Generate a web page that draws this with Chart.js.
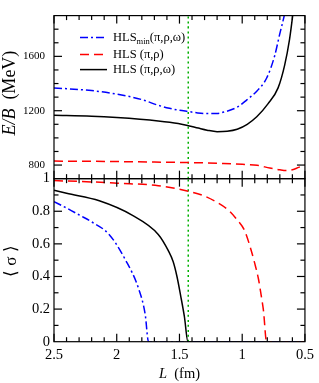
<!DOCTYPE html>
<html>
<head>
<meta charset="utf-8">
<script src="https://cdn.jsdelivr.net/npm/chart.js@4.4.1/dist/chart.umd.min.js"></script>
<style>
  html, body { margin: 0; padding: 0; background: #fff; }
  canvas { display: block; }
</style>
</head>
<body>
<canvas id="chart" width="319" height="383"></canvas>
<script>
// top panel: E/B (MeV) against L (fm)
const lMinE = [2.5, 2.2, 2.0, 1.8, 1.67, 1.58, 1.5, 1.43, 1.355, 1.28, 1.2, 1.146, 1.04, 0.963, 0.884, 0.806, 0.741, 0.702, 0.662, 0.65];
const eMin  = [1368, 1348, 1322, 1282, 1240, 1218, 1203, 1194, 1184, 1179, 1180, 1190, 1226, 1280, 1344, 1439, 1605, 1760, 1912, 1970];
const lPiRhoE = [2.5, 2.2, 2.0, 1.7, 1.4, 1.15, 1.0, 0.88, 0.78, 0.7, 0.65, 0.6, 0.55, 0.5];
const ePiRho  = [829, 828, 826, 822, 818, 812, 806, 798, 778, 765, 760, 766, 783, 800];
const lFullE = [2.5, 2.2, 2.0, 1.67, 1.51, 1.43, 1.35, 1.28, 1.2, 1.12, 1.04, 0.96, 0.884, 0.795, 0.714, 0.662, 0.623, 0.596, 0.585];
const eFull  = [1167, 1160, 1150, 1125, 1106, 1090, 1072, 1057, 1046, 1049, 1064, 1100, 1155, 1250, 1368, 1534, 1723, 1912, 2000];

// bottom panel: <sigma> against L (fm)
const lMinS = [2.5, 2.4, 2.296, 2.2, 2.061, 1.93, 1.825, 1.773, 1.747, 0.5];
const sMin  = [0.859, 0.82, 0.776, 0.735, 0.658, 0.501, 0.324, 0.167, 0, 0];
const lPiRhoS = [2.5, 2.2, 2.0, 1.669, 1.43, 1.3, 1.2, 1.1, 1.04, 0.98, 0.936, 0.9, 0.87, 0.85, 0.83, 0.806, 0.5];
const sPiRho  = [0.988, 0.98, 0.972, 0.957, 0.923, 0.893, 0.854, 0.80, 0.747, 0.68, 0.58, 0.48, 0.383, 0.29, 0.187, 0, 0];
const lFullS = [2.5, 2.4, 2.139, 1.878, 1.669, 1.59, 1.55, 1.52, 1.49, 1.46, 1.433, 0.5];
const sFull  = [0.929, 0.91, 0.864, 0.776, 0.658, 0.56, 0.49, 0.40, 0.28, 0.15, 0, 0];

const vLineL = 1.43;
const seriesLabels = ['HLS_min(π,ρ,ω)', 'HLS (π,ρ)', 'HLS (π,ρ,ω)'];

const xTicks = [2.5, 2, 1.5, 1, 0.5];
const eTicks = [800, 1200, 1600];
const sTicks = [0, 0.2, 0.4, 0.6, 0.8, 1];

const SERIF = "'Liberation Serif', 'Times New Roman', serif";
const BLUE = '#0000ff', RED = '#ff0000', BLACK = '#000000', GREEN = '#00b000';
const DASHDOT = [8, 3, 2, 3], DASH = [9, 5];

const pts = (xs, ys) => xs.map((x, i) => ({ x: x, y: ys[i] }));

function line(label, xs, ys, axis, color, dash) {
  return {
    label: label, data: pts(xs, ys), yAxisID: axis,
    borderColor: color, borderWidth: 1.5, borderDash: dash,
    pointRadius: 0, fill: false, cubicInterpolationMode: 'monotone'
  };
}

const datasets = [
  line(seriesLabels[0], lMinE, eMin, 'yE', BLUE, DASHDOT),
  line(seriesLabels[1], lPiRhoE, ePiRho, 'yE', RED, DASH),
  line(seriesLabels[2], lFullE, eFull, 'yE', BLACK, []),
  line('', lMinS, sMin, 'yS', BLUE, DASHDOT),
  line('', lPiRhoS, sPiRho, 'yS', RED, DASH),
  line('', lFullS, sFull, 'yS', BLACK, []),
  line('', [vLineL, vLineL], [700, 1900], 'yE', GREEN, [2, 3]),
  line('', [vLineL, vLineL], [0, 1], 'yS', GREEN, [2, 3])
];

function drawParts(ctx, parts, x, y) {
  let w = 0;
  parts.forEach(p => { ctx.font = p.font; w += ctx.measureText(p.t).width; });
  let cx = x - w / 2;
  parts.forEach(p => {
    ctx.font = p.font;
    ctx.fillText(p.t, cx, y + (p.dy || 0));
    cx += ctx.measureText(p.t).width;
  });
}

const framePlugin = {
  id: 'frame',
  afterDatasetsDraw(chart) {
    const { ctx, chartArea: a, scales } = chart;
    const x = scales.x, yE = scales.yE, yS = scales.yS;
    ctx.save();
    ctx.strokeStyle = '#000';
    ctx.lineWidth = 1.2;
    ctx.setLineDash([]);
    const seg = (x1, y1, x2, y2) => { ctx.beginPath(); ctx.moveTo(x1, y1); ctx.lineTo(x2, y2); ctx.stroke(); };
    [yE, yS].forEach(y => ctx.strokeRect(a.left, y.top, a.right - a.left, y.bottom - y.top));

    // x ticks on both panels, pointing inward
    for (let i = 5; i <= 25; i++) {
      const v = i / 10;
      const px = x.getPixelForValue(v);
      const len = xTicks.includes(v) ? 8 : 4.5;
      [yE, yS].forEach(y => { seg(px, y.top, px, y.top + len); seg(px, y.bottom, px, y.bottom - len); });
    }
    for (let v = 800; v <= 1800; v += 100) {
      const py = yE.getPixelForValue(v);
      const len = eTicks.includes(v) ? 8 : 4.5;
      seg(a.left, py, a.left + len, py); seg(a.right, py, a.right - len, py);
    }
    for (let i = 1; i <= 9; i++) {
      const v = i / 10;
      const py = yS.getPixelForValue(v);
      const len = sTicks.some(t => Math.abs(t - v) < 1e-9) ? 8 : 4.5;
      seg(a.left, py, a.left + len, py); seg(a.right, py, a.right - len, py);
    }

    // axis titles
    ctx.fillStyle = '#000';
    ctx.textBaseline = 'alphabetic';
    drawParts(ctx, [
      { t: 'L', font: 'italic 14.5px ' + SERIF },
      { t: '  (fm)', font: '14.5px ' + SERIF }
    ], (a.left + a.right) / 2, 378);

    ctx.save();
    ctx.translate(14.5, (yE.top + yE.bottom) / 2 - 4);
    ctx.rotate(-Math.PI / 2);
    drawParts(ctx, [
      { t: 'E/B', font: 'italic 18px ' + SERIF },
      { t: '  (MeV)', font: '18px ' + SERIF }
    ], 0, 0);
    ctx.restore();

    ctx.save();
    ctx.translate(15.5, (yS.top + yS.bottom) / 2 + 1);
    ctx.rotate(-Math.PI / 2);
    drawParts(ctx, [{ t: '⟨ σ ⟩', font: '17px ' + SERIF }], 0, 0);
    ctx.restore();

    // legend for the three models
    const lx = a.left + 26, rows = [yE.top + 22, yE.top + 39, yE.top + 54];
    [0, 1, 2].forEach(i => {
      const ds = chart.data.datasets[i];
      const ry = rows[i];
      ctx.strokeStyle = ds.borderColor;
      ctx.lineWidth = 1.5;
      ctx.setLineDash(ds.borderDash);
      seg(lx, ry, lx + 27, ry);
      ctx.setLineDash([]);
      ctx.fillStyle = '#000';
      ctx.textAlign = 'left';
      ctx.textBaseline = 'middle';
      const f = '12.5px ' + SERIF;
      let tx = lx + 33;
      const parts = ds.label.split('_');
      ctx.font = f;
      ctx.fillText(parts[0], tx, ry);
      tx += ctx.measureText(parts[0]).width;
      if (parts.length > 1) {
        const k = parts[1].indexOf('(');
        const sub = parts[1].slice(0, k), rest = parts[1].slice(k);
        ctx.font = '8.5px ' + SERIF;
        ctx.fillText(sub, tx, ry + 4);
        tx += ctx.measureText(sub).width;
        ctx.font = f;
        ctx.fillText(rest, tx, ry);
      }
    });
    ctx.restore();
  }
};

const setTicks = list => scale => { scale.ticks = list.map(v => ({ value: v })); };
const plainLabel = v => String(v);

new Chart(document.getElementById('chart'), {
  type: 'line',
  data: { datasets: datasets },
  options: {
    responsive: false,
    animation: false,
    layout: { padding: { top: 2, right: 10, left: 0, bottom: 0 } },
    plugins: { legend: { display: false }, tooltip: { enabled: false } },
    scales: {
      x: {
        type: 'linear', reverse: true, min: 0.5, max: 2.5,
        afterBuildTicks: setTicks(xTicks),
        afterFit: s => { s.height = 41.3; },
        grid: { display: false, drawTicks: false }, border: { display: false },
        ticks: { padding: 5, autoSkip: false, maxRotation: 0, callback: plainLabel, color: '#000', font: { family: SERIF, size: 14.5 } }
      },
      yS: {
        type: 'linear', position: 'left', stack: 'panels', stackWeight: 1,
        min: 0, max: 1,
        afterBuildTicks: setTicks(sTicks),
        afterFit: s => { s.width = 54; },
        grid: { display: false, drawTicks: false }, border: { display: false },
        ticks: { padding: 4, autoSkip: false, callback: plainLabel, color: '#000', font: { family: SERIF, size: 14.5 } }
      },
      yE: {
        type: 'linear', position: 'left', stack: 'panels', stackWeight: 1,
        min: 700, max: 1900,
        afterBuildTicks: setTicks(eTicks),
        afterFit: s => { s.width = 54; },
        grid: { display: false, drawTicks: false }, border: { display: false },
        ticks: { padding: 9, autoSkip: false, callback: plainLabel, color: '#000', font: { family: SERIF, size: 11 } }
      }
    }
  },
  plugins: [framePlugin]
});
</script>
</body>
</html>
